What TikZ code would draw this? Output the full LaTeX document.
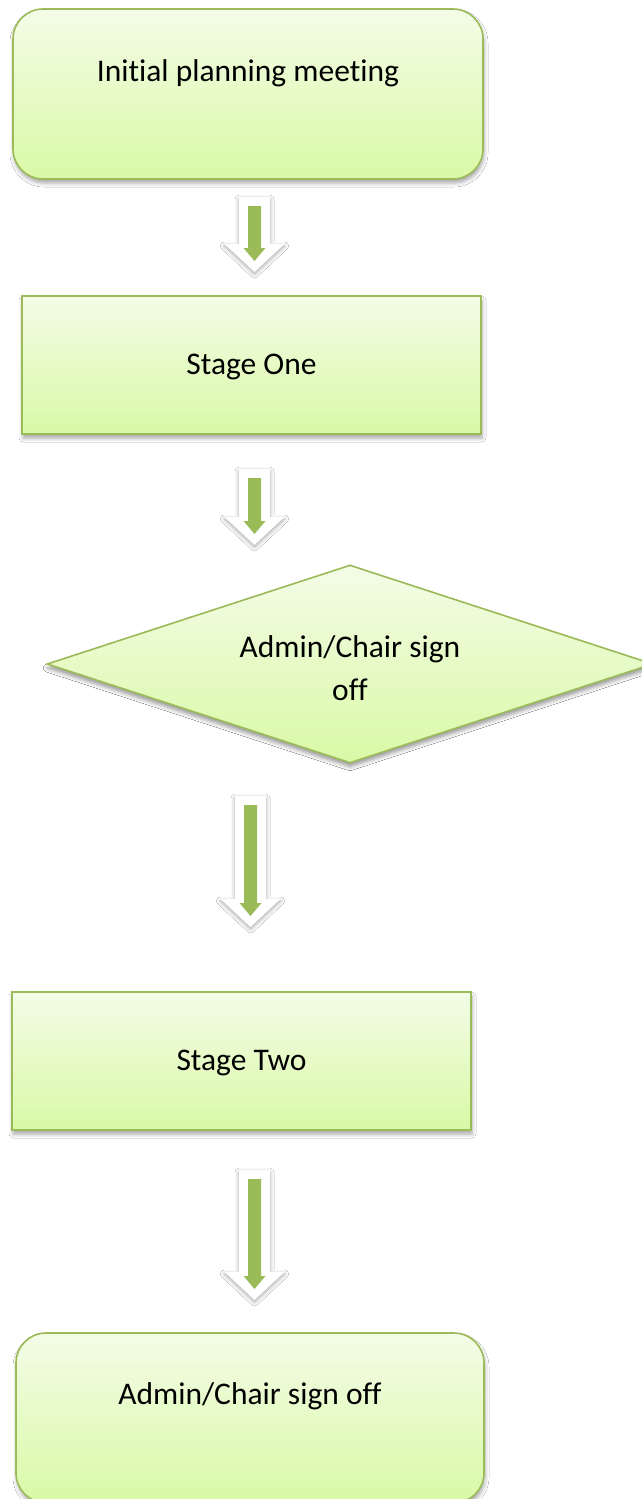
\documentclass[tikz,border=0pt]{standalone}
\usepackage{fontspec}
\setmainfont{Carlito}[Ligatures=NoCommon]
\usetikzlibrary{shapes.geometric,shadows.blur}
\definecolor{bordergreen}{HTML}{9BBB59}
\definecolor{arrowgreen}{HTML}{9BBB59}
\definecolor{filltop}{HTML}{F3FCE7}
\definecolor{fillbot}{HTML}{DAF9A6}
\newcommand\boxfont{\fontsize{31.5}{43}\selectfont}
\tikzset{
  boxbase/.style={draw=bordergreen, line width=1.6pt, top color=filltop, bottom color=fillbot,
    blur shadow={shadow xshift=1pt, shadow yshift=-4pt, shadow blur radius=4pt, shadow opacity=35},
    inner sep=0pt, align=center, font=\boxfont, text=black},
  roundbox/.style={boxbase, rectangle, rounded corners=30pt},
  squarebox/.style={boxbase, rectangle},
  decision/.style={boxbase, diamond, aspect=3,
    blur shadow={shadow xshift=0pt, shadow yshift=-4pt, shadow blur radius=4pt, shadow opacity=22}},
  intext/.style={font=\boxfont, align=center, text=black},
  outerarrow/.style={fill=white,
    blur shadow={shadow xshift=0pt, shadow yshift=-2pt, shadow blur radius=4pt, shadow opacity=35}},
  innerarrow/.style={fill=arrowgreen},
  pics/blockarrow/.style={code={
    \path[outerarrow] (-15.5,0) -- (15.5,0) -- (15.5,#1-28) -- (30,#1-28) -- (0,#1)
      -- (-30,#1-28) -- (-15.5,#1-28) -- cycle;
    \path[innerarrow] (-6.5,9) -- (6.5,9) -- (6.5,#1-24) -- (11,#1-24) -- (0,#1-11)
      -- (-11,#1-24) -- (-6.5,#1-24) -- cycle;
  }}
}
\begin{document}
\begin{tikzpicture}[x=1pt,y=-1pt]
\useasboundingbox (0,0) rectangle (641,1499);
\fill[white] (0,0) rectangle (641,1499);

\node[roundbox, minimum width=470pt, minimum height=170pt,
  label={[intext, yshift=21pt]center:Initial planning meeting}]
  (b1) at (248,94) {};

\node[squarebox, minimum width=459pt, minimum height=138pt,
  label={[intext, yshift=-2pt]center:Stage One}] (b2) at (251.5,365) {};

\node[decision, minimum width=606pt, minimum height=198pt,
  label={[intext, yshift=-4.5pt]center:Admin/Chair sign\\off}] (d1) at (350,664) {};

\node[squarebox, minimum width=459pt, minimum height=138pt,
  label={[intext, yshift=-2pt]center:Stage Two}] (b3) at (241.5,1061) {};

\node[roundbox, minimum width=468pt, minimum height=170pt,
  label={[intext, yshift=22pt]center:Admin/Chair sign off}]
  (b4) at (250,1418) {};

\pic (a1) at (254.5,197) {blockarrow=75};
\pic (a2) at (254.5,469) {blockarrow=76};
\pic (a3) at (250.5,796) {blockarrow=131};
\pic (a4) at (254.5,1170) {blockarrow=130};
\end{tikzpicture}
\end{document}
